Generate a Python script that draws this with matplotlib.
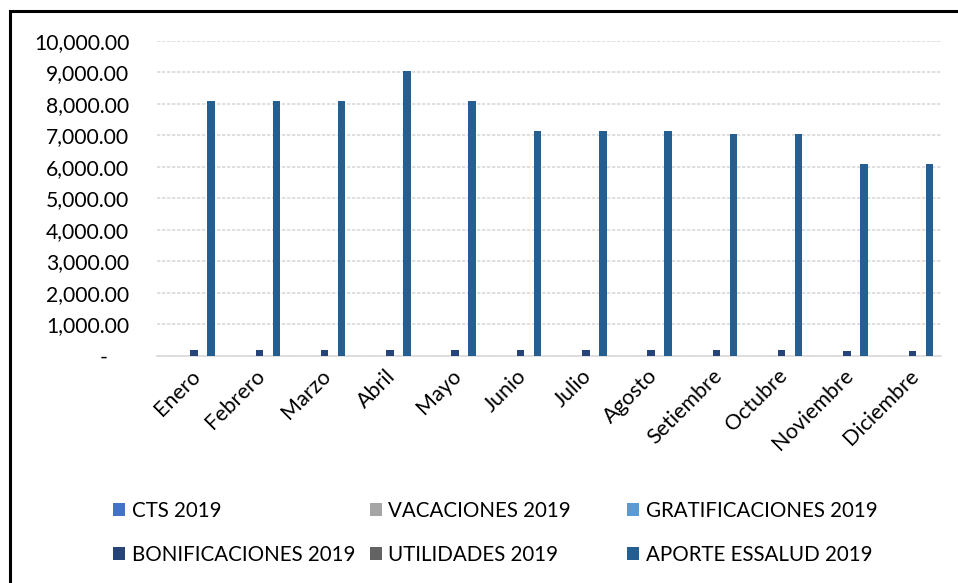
import matplotlib.pyplot as plt
import matplotlib.patches as patches
from matplotlib.ticker import FuncFormatter
import numpy as np

plt.rcParams['font.family'] = ['Lato', 'DejaVu Sans']

meses = ['Enero', 'Febrero', 'Marzo', 'Abril', 'Mayo', 'Junio', 'Julio',
         'Agosto', 'Setiembre', 'Octubre', 'Noviembre', 'Diciembre']

series = ['CTS 2019', 'VACACIONES 2019', 'GRATIFICACIONES 2019',
          'BONIFICACIONES 2019', 'UTILIDADES 2019', 'APORTE ESSALUD 2019']
colores = ['#4472C4', '#A5A5A5', '#5B9BD5', '#264478', '#636363', '#255E91']

cts = [0] * 12
vacaciones = [0] * 12
gratificaciones = [0] * 12
bonificaciones = [185, 185, 185, 205, 185, 180, 180, 180, 175, 175, 155, 155]
utilidades = [0] * 12
aporte = [8100, 8100, 8100, 9050, 8100, 7150, 7150, 7150, 7050, 7050, 6100, 6100]

valores = [cts, vacaciones, gratificaciones, bonificaciones, utilidades, aporte]

fig = plt.figure(figsize=(9.58, 5.83), dpi=100)
ax = fig.add_axes([0.164, 0.3894, 0.818, 0.5403])

x = np.arange(len(meses))
paso = 0.13
ancho = 0.115
handles = []
for i, (nombre, vals, c) in enumerate(zip(series, valores, colores)):
    h = ax.bar(x + (i - 2.5) * paso, vals, width=ancho, color=c, label=nombre, zorder=3)
    handles.append(h)

ax.set_xlim(-0.5, 11.5)
ax.set_ylim(0, 10000)
ax.set_yticks(np.arange(0, 10001, 1000))

def fmt(v, pos):
    if v == 0:
        return '-    '
    return '{:,.2f}'.format(v)

ax.yaxis.set_major_formatter(FuncFormatter(fmt))
ax.set_xticks(x)
ax.set_xticklabels(meses, rotation=45, ha='right', rotation_mode='anchor')
ax.tick_params(axis='both', length=0, colors='#000000')
ax.tick_params(axis='x', pad=7, labelsize=15.5)
ax.tick_params(axis='y', pad=20, labelsize=15.2)

ax.grid(axis='y', color='#d9d9d9', linewidth=1.2, linestyle=(0, (2, 1)), zorder=0)
for s in ['top', 'right', 'left']:
    ax.spines[s].set_visible(False)
ax.spines['bottom'].set_color('#d9d9d9')
ax.spines['bottom'].set_linewidth(1.2)

# leyenda en tres columnas de ancho fijo, como en Excel
columnas = [(0, 3), (1, 4), (2, 5)]
x_col = [113, 370, 627]
for (a, b), xc in zip(columnas, x_col):
    leg = fig.legend([handles[a], handles[b]], [series[a], series[b]],
                     loc='upper left', bbox_to_anchor=(xc / 958, 1 - 501 / 583),
                     frameon=False, fontsize=14.8, handlelength=0.6, handleheight=0.6,
                     handletextpad=0.3, labelspacing=1.15, borderpad=0, borderaxespad=0)

borde = patches.Rectangle((10 / 958, -0.1), 1.2, 1.1 - 11 / 583,
                          transform=fig.transFigure, fill=False,
                          edgecolor='black', linewidth=2.2)
fig.patches.append(borde)

fig.savefig('out.png', dpi=100)
